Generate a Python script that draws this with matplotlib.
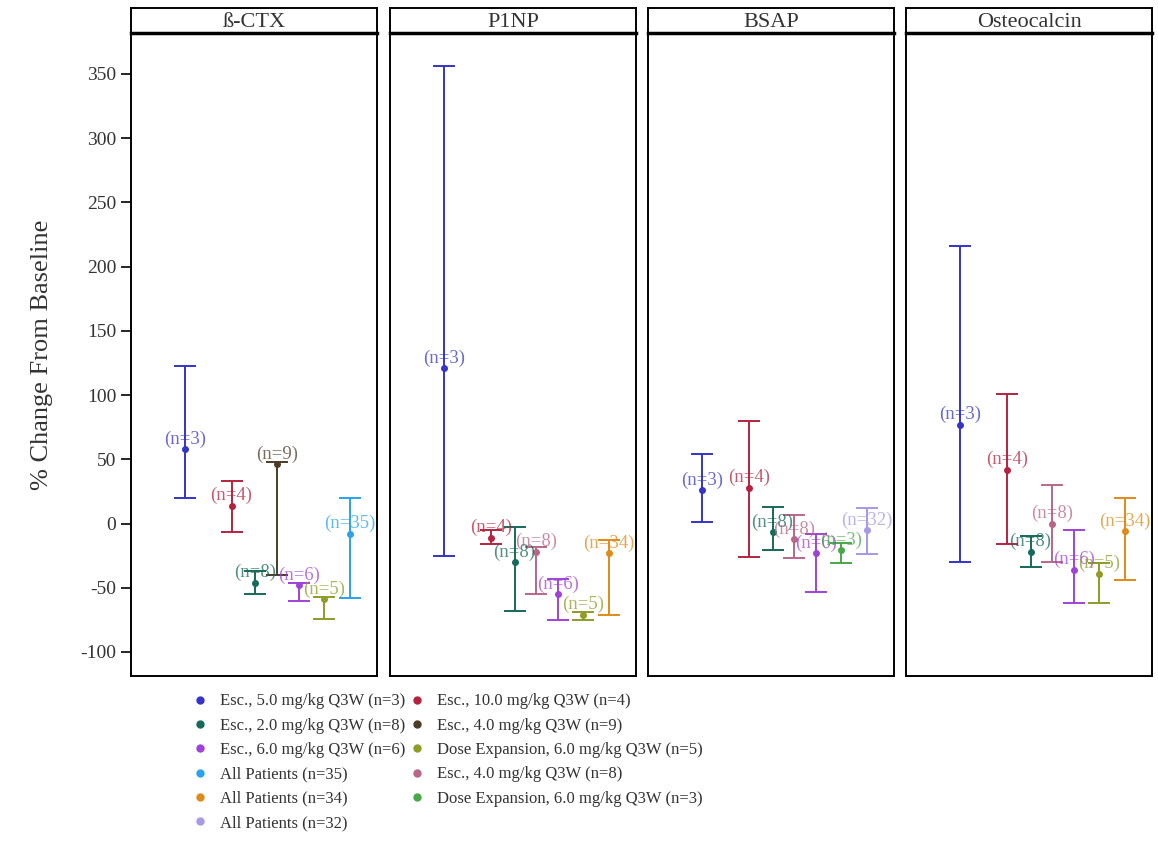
import matplotlib.pyplot as plt
from matplotlib.lines import Line2D

plt.rcParams['font.family'] = ['Liberation Serif', 'DejaVu Serif']
plt.rcParams['axes.unicode_minus'] = False

# panels (markers)
panel_titles = ['ß-CTX', 'P1NP', 'BSAP', 'Osteocalcin']

# cohort descriptions, sample sizes and colours
series_names = {
    'esc5': 'Esc., 5.0 mg/kg Q3W (n=3)',
    'esc10': 'Esc., 10.0 mg/kg Q3W (n=4)',
    'esc2': 'Esc., 2.0 mg/kg Q3W (n=8)',
    'esc4_9': 'Esc., 4.0 mg/kg Q3W (n=9)',
    'esc6': 'Esc., 6.0 mg/kg Q3W (n=6)',
    'exp6_5': 'Dose Expansion, 6.0 mg/kg Q3W (n=5)',
    'all35': 'All Patients (n=35)',
    'esc4_8': 'Esc., 4.0 mg/kg Q3W (n=8)',
    'all34': 'All Patients (n=34)',
    'exp6_3': 'Dose Expansion, 6.0 mg/kg Q3W (n=3)',
    'all32': 'All Patients (n=32)',
}
series_n = {'esc5': 3, 'esc10': 4, 'esc2': 8, 'esc4_9': 9, 'esc6': 6, 'exp6_5': 5,
            'all35': 35, 'esc4_8': 8, 'all34': 34, 'exp6_3': 3, 'all32': 32}
series_colors = {
    'esc5': '#3434c8', 'esc10': '#b5223f', 'esc2': '#17695a', 'esc4_9': '#4d3b26',
    'esc6': '#a042d6', 'exp6_5': '#8f9c26', 'all35': '#2aa2ee', 'esc4_8': '#b8668a',
    'all34': '#e08a18', 'exp6_3': '#48a848', 'all32': '#a898e6',
}

# values: mean and range (% change from baseline)
ctx_groups = ['esc5', 'esc10', 'esc2', 'esc4_9', 'esc6', 'exp6_5', 'all35']
ctx_mean = [58, 14, -46, 46, -48, -59, -8]
ctx_low = [20, -7, -55, -40, -60, -74, -58]
ctx_high = [123, 33, -37, 48, -46, -57, 20]

p1np_groups = ['esc5', 'esc10', 'esc2', 'esc4_8', 'esc6', 'exp6_5', 'all34']
p1np_mean = [121, -11, -30, -22, -55, -71, -23]
p1np_low = [-25, -16, -68, -55, -75, -75, -71]
p1np_high = [356, -5, -3, -18, -43, -69, -13]

bsap_groups = ['esc5', 'esc10', 'esc2', 'esc4_8', 'esc6', 'exp6_3', 'all32']
bsap_mean = [26, 28, -7, -12, -23, -21, -5]
bsap_low = [1, -26, -21, -27, -53, -31, -24]
bsap_high = [54, 80, 13, 7, -8, -15, 12]

oc_groups = ['esc5', 'esc10', 'esc2', 'esc4_8', 'esc6', 'exp6_5', 'all34']
oc_mean = [77, 42, -22, 0, -36, -39, -6]
oc_low = [-30, -16, -34, -30, -62, -62, -44]
oc_high = [216, 101, -10, 30, -5, -31, 20]

legend_col1 = ['esc5', 'esc2', 'esc6', 'all35', 'all34', 'all32']
legend_col2 = ['esc10', 'esc4_9', 'exp6_5', 'esc4_8', 'exp6_3']

panel_data = [
    (ctx_groups, ctx_mean, ctx_low, ctx_high),
    (p1np_groups, p1np_mean, p1np_low, p1np_high),
    (bsap_groups, bsap_mean, bsap_low, bsap_high),
    (oc_groups, oc_mean, oc_low, oc_high),
]

# layout
slot_x = [0.219, 0.409, 0.506, 0.595, 0.684, 0.785, 0.891]
panel_left = [0.1131, 0.3368, 0.5596, 0.7824]
panel_w = 0.2125
bottom, top = 0.2149, 0.9617
strip_h = 0.029

fig = plt.figure(figsize=(11.58, 8.61), dpi=100)

for i, (title, (groups, mean, low, high)) in enumerate(zip(panel_titles, panel_data)):
    ax = fig.add_axes([panel_left[i], bottom, panel_w, top - bottom])
    for j, key in enumerate(groups):
        c = series_colors[key]
        ax.errorbar([slot_x[j]], [mean[j]],
                    yerr=[[mean[j] - low[j]], [high[j] - mean[j]]],
                    fmt='o', color=c, ms=4, elinewidth=1.4, capsize=8, capthick=1.4)
        ax.annotate('(n={})'.format(series_n[key]), (slot_x[j], mean[j]),
                    xytext=(0, 1), textcoords='offset points', ha='center', va='bottom',
                    fontsize=13.5, color=c, alpha=0.75)
    ax.set_xlim(0, 1)
    ax.set_ylim(-118.7, 381.9)
    ax.set_xticks([])
    for s in ax.spines.values():
        s.set_linewidth(1.4)
    if i == 0:
        ax.set_yticks(range(-100, 351, 50))
        ax.tick_params(axis='y', length=7, width=1.2, labelsize=14, labelcolor='#333333')
        ax.set_ylabel('% Change From Baseline', fontsize=19, color='#333333', labelpad=20)
    else:
        ax.set_yticks([])

    strip = fig.add_axes([panel_left[i], top, panel_w, strip_h])
    strip.set_xticks([])
    strip.set_yticks([])
    for s in strip.spines.values():
        s.set_linewidth(1.4)
    strip.spines['bottom'].set_linewidth(2.5)
    strip.text(0.5, 0.42, title, ha='center', va='center', fontsize=16, color='#333333',
               transform=strip.transAxes)

handles = []
for key in legend_col1 + legend_col2:
    handles.append(Line2D([], [], marker='o', linestyle='', color=series_colors[key],
                          markersize=5, label=series_names[key]))
fig.legend(handles=handles, ncol=2, loc='upper left', bbox_to_anchor=(0.154, 0.212),
           frameon=False, fontsize=12, handlelength=0.8, handletextpad=0.8,
           columnspacing=0.3, labelspacing=0.5, labelcolor='#333333')

fig.savefig('out.png', dpi=100)
